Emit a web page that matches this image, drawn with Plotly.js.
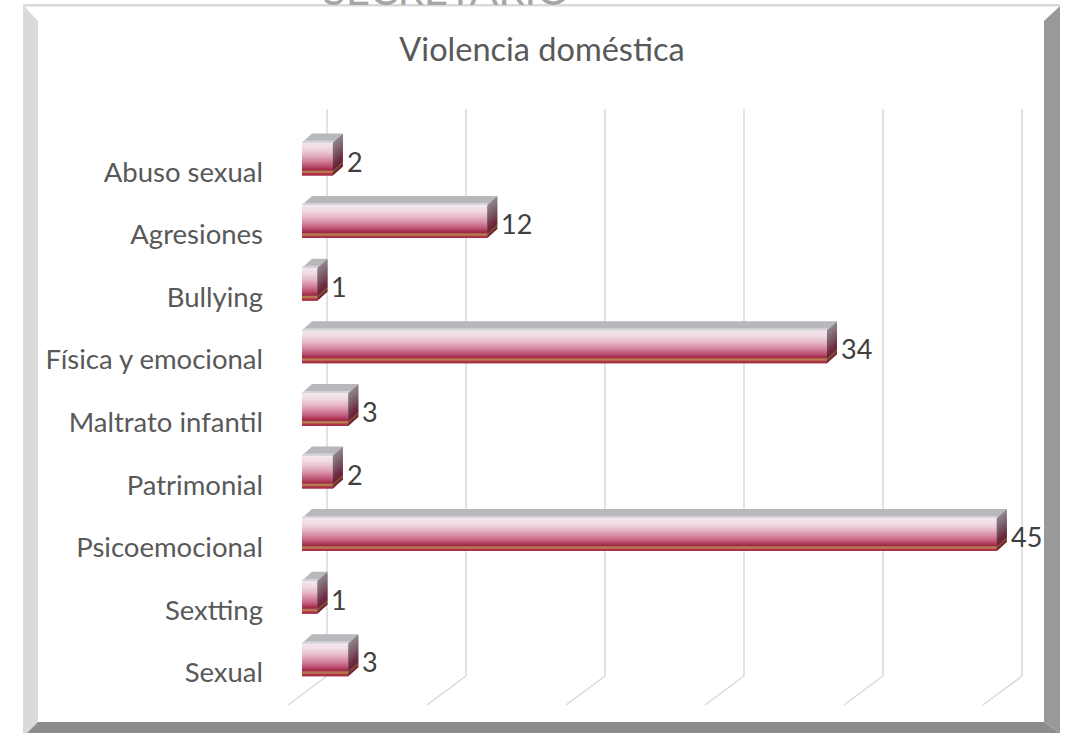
<!DOCTYPE html>
<html>
<head>
<meta charset="utf-8">
<script src="https://cdn.plot.ly/plotly-3.0.1.min.js"></script>
<style>html,body{margin:0;padding:0;background:#fff;}#chart{width:1068px;height:733px;}</style>
</head>
<body>
<div id="chart"></div>
<script>
// ---- data ----
const categories = ['Abuso sexual','Agresiones','Bullying','Física y emocional','Maltrato infantil','Patrimonial','Psicoemocional','Sextting','Sexual'];
const values = [2, 12, 1, 34, 3, 2, 45, 1, 3];
const gridTicks = [0, 10, 20, 30, 40, 50];
const chartTitle = 'Violencia doméstica';
const headerText = 'SECRETARIO';

// ---- layout geometry (pixels) ----
const W = 1068, H = 733;
const PL = 280, PR = 1044, PT = 100, PB = 721;
const X0PX = 302, XPX = 15.44;     // bar axis: zero position and px per unit
const Y0PX = 172, YPX = 62.6;      // category axis: first label and pitch
const G0PX = 327, GPX = 13.9;      // back-wall grid: zero position and px per unit
const xRange = [(PL - X0PX) / XPX, (PR - X0PX) / XPX];
const yRange = [(PB - Y0PX) / YPX, (PT - Y0PX) / YPX];
const gRange = [(PL - G0PX) / GPX, (PR - G0PX) / GPX];
const ux = p => p / XPX, uy = p => p / YPX, ug = p => p / GPX;
const xp = p => (p - PL) / (PR - PL), yp = p => (PB - p) / (PB - PT);

const BAR_SHIFT = uy(-13);  // bar centre relative to label
const BAR_H = uy(33);
const DX = ux(10), DY = uy(9);

const idx = categories.map((c, i) => i);

// colour ramps (style only): [position 0..1 from top, colour]
const frontStops = [[0,'#f5e9ee'],[0.18,'#f0d9e2'],[0.38,'#e4b4c4'],[0.55,'#d4869e'],[0.70,'#bf5677'],[0.80,'#a8304f'],[0.84,'#a02744'],[0.855,'#b27450'],[0.91,'#b98552'],[0.925,'#b0384b'],[1,'#a82d45']];
const sideStops = [[0,'#8e8690'],[0.35,'#7d5f6c'],[0.7,'#6e2c42'],[0.84,'#6a2238'],[0.86,'#7e5236'],[0.92,'#7e5236'],[0.93,'#742034'],[1,'#701d31']];
function hex2rgb(h){return [1,3,5].map(i=>parseInt(h.substr(i,2),16));}
function ramp(stops, t){
  for (let i = 1; i < stops.length; i++) {
    if (t <= stops[i][0]) {
      const a = stops[i-1], b = stops[i];
      const f = (t - a[0]) / Math.max(1e-9, b[0] - a[0]);
      const ca = hex2rgb(a[1]), cb = hex2rgb(b[1]);
      return 'rgb(' + ca.map((c, j) => Math.round(c + (cb[j] - c) * f)).join(',') + ')';
    }
  }
  return stops[stops.length-1][1];
}

const traces = [];
const nF = 40;
for (let k = 0; k < nF; k++) {
  const w = BAR_H / nF;
  const last = k === nF - 1;
  traces.push({
    type: 'bar', orientation: 'h', x: values, y: idx,
    base: 0, offset: BAR_SHIFT - BAR_H / 2 + k * w, width: last ? w : w * 2,
    marker: {color: ramp(frontStops, (k + 0.5) / nF), line: {width: 0}},
    hoverinfo: 'skip', showlegend: false, cliponaxis: false
  });
}

// top faces
{
  const xs = [], ys = [];
  values.forEach((v, i) => {
    const top = i + BAR_SHIFT - BAR_H / 2;
    xs.push(0, v, v + DX, DX, 0, null);
    ys.push(top, top, top - DY, top - DY, top, null);
  });
  traces.push({type: 'scatter', mode: 'lines', x: xs, y: ys, fill: 'toself', fillcolor: '#b7b7bc',
    line: {width: 0}, hoverinfo: 'skip', showlegend: false, cliponaxis: false});
  const xs2 = [], ys2 = [];
  values.forEach((v, i) => {
    const top = i + BAR_SHIFT - BAR_H / 2;
    const d = 0.22;
    xs2.push(0, v, v + DX * d, DX * d, 0, null);
    ys2.push(top, top, top - DY * d, top - DY * d, top, null);
  });
  traces.push({type: 'scatter', mode: 'lines', x: xs2, y: ys2, fill: 'toself', fillcolor: '#d4d4d8',
    line: {width: 0}, hoverinfo: 'skip', showlegend: false, cliponaxis: false});
}
// side faces
const nS = 20;
for (let k = 0; k < nS; k++) {
  const xs = [], ys = [];
  values.forEach((v, i) => {
    const top = i + BAR_SHIFT - BAR_H / 2;
    const y1 = top + k * BAR_H / nS, y2 = top + (k + (k === nS - 1 ? 1 : 1.8)) * BAR_H / nS;
    xs.push(v, v + DX, v + DX, v, v, null);
    ys.push(y1, y1 - DY, y2 - DY, y2, y1, null);
  });
  traces.push({type: 'scatter', mode: 'lines', x: xs, y: ys, fill: 'toself',
    fillcolor: ramp(sideStops, (k + 0.5) / nS),
    line: {width: 0}, hoverinfo: 'skip', showlegend: false, cliponaxis: false});
}

// ---- shapes: frame + grid ----
const shapes = [];
const poly = (pts, fill) => ({type: 'path', xref: 'paper', yref: 'paper', layer: 'below',
  path: 'M' + pts.map(p => xp(p[0]) + ',' + yp(p[1])).join('L') + 'Z',
  fillcolor: fill, line: {width: 0}});
shapes.push(poly([[23,5],[1060,5],[1060,733],[23,733]], '#ffffff'));
shapes.push(poly([[23,4],[1060,4],[1060,6.5],[23,6.5]], '#d9d9d9'));
shapes.push(poly([[23,5],[38,21],[38,722],[27,733],[23,733]], '#dadada'));
shapes.push(poly([[1044,21],[1060,6],[1060,733],[1044,722]], '#999999'));
shapes.push(poly([[38,722],[1044,722],[1060,733],[27,733]], '#8c8c8c'));

gridTicks.forEach(t => {
  shapes.push({type: 'line', xref: 'x2', yref: 'paper', layer: 'below',
    x0: t, x1: t, y0: yp(109), y1: yp(676), line: {color: '#d9d9d9', width: 1.5}});
  shapes.push({type: 'line', xref: 'x2', yref: 'paper', layer: 'below',
    x0: t, x1: t - ug(39), y0: yp(676), y1: yp(705), line: {color: '#d9d9d9', width: 1.5}});
});

// ---- annotations: value labels + header ----
const annotations = values.map((v, i) => ({
  x: v, y: i + BAR_SHIFT + uy(2), xref: 'x', yref: 'y', text: String(v),
  xanchor: 'left', yanchor: 'middle', xshift: 12, showarrow: false,
  font: {family: 'Lato, sans-serif', size: 27, color: '#404040'}
}));
annotations.push({
  x: xp(446), y: yp(-11), xref: 'paper', yref: 'paper', text: headerText,
  xanchor: 'center', yanchor: 'middle', showarrow: false,
  font: {family: 'Lato, sans-serif', size: 42, color: '#a6a6a6'}
});

const layout = {
  width: W, height: H,
  margin: {l: PL, r: W - PR, t: PT, b: H - PB, pad: 0},
  paper_bgcolor: '#ffffff', plot_bgcolor: 'rgba(0,0,0,0)',
  barmode: 'overlay', showlegend: false,
  title: {text: chartTitle, x: 542 / W, y: 1 - 50 / H, xanchor: 'center', yanchor: 'middle',
    xref: 'container', yref: 'container',
    font: {family: 'Lato, sans-serif', size: 32.5, color: '#595959'}},
  xaxis: {range: xRange, visible: false, fixedrange: true},
  xaxis2: {range: gRange, overlaying: 'x', visible: false, fixedrange: true},
  yaxis: {range: yRange, tickmode: 'array', tickvals: idx, ticktext: categories,
    showgrid: false, zeroline: false, showline: false, ticks: '', ticklabelstandoff: 16,
    tickfont: {family: 'Lato, sans-serif', size: 27.5, color: '#595959'}, fixedrange: true},
  shapes: shapes, annotations: annotations
};

Plotly.newPlot('chart', traces, layout, {displayModeBar: false, staticPlot: true});
</script>
</body>
</html>
